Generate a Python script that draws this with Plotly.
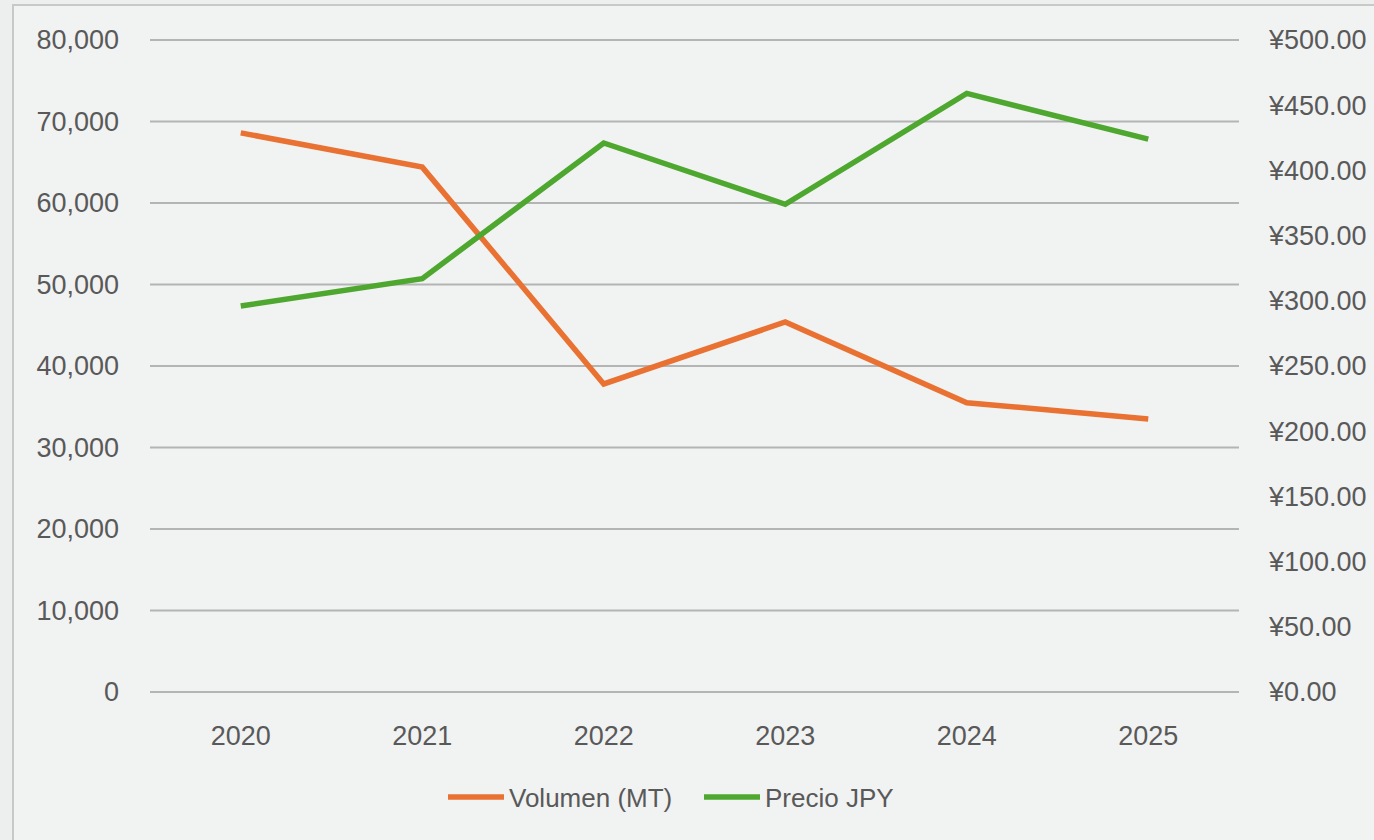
import plotly.graph_objects as go

years = ["2020", "2021", "2022", "2023", "2024", "2025"]
volumen_mt = [68600, 64400, 37800, 45400, 35500, 33500]
precio_jpy = [296, 317, 421, 374, 459, 424]
left_ticks = [0, 10000, 20000, 30000, 40000, 50000, 60000, 70000, 80000]
right_ticks = [0, 50, 100, 150, 200, 250, 300, 350, 400, 450, 500]
right_labels = ["¥0.00", "¥50.00", "¥100.00", "¥150.00", "¥200.00", "¥250.00",
                "¥300.00", "¥350.00", "¥400.00", "¥450.00", "¥500.00"]

fig = go.Figure()
fig.add_trace(go.Scatter(x=years, y=volumen_mt, name="Volumen (MT)", mode="lines",
                         line=dict(color="#E97132", width=5.5)))
fig.add_trace(go.Scatter(x=years, y=precio_jpy, name="Precio JPY", mode="lines", yaxis="y2",
                         line=dict(color="#4EA72E", width=5.5)))

W, H = 1374, 840
L, R, T, B = 150, 1239, 39, 693
def px(x):
    return (x - L) / (R - L)
def py(y):
    return (B - y) / (B - T)

pad = 120
shapes = [dict(type="rect", xref="paper", yref="paper",
               x0=px(13), x1=px(1385), y0=py(5), y1=py(850),
               line=dict(color="#C8C8C8", width=2), fillcolor="#F1F2F2", layer="below")]
for v in left_ticks:
    shapes.append(dict(type="line", xref="paper", yref="y", x0=0, x1=1, y0=v, y1=v,
                       line=dict(color="#B4B4B4", width=2), layer="below"))

fig.update_layout(
    width=W, height=H,
    margin=dict(l=L, r=W - R, t=T, b=H - B, autoexpand=False),
    paper_bgcolor="#EDEEEE",
    plot_bgcolor="rgba(0,0,0,0)",
    font=dict(family="Liberation Sans, Arial, sans-serif", size=27, color="#595959"),
    xaxis=dict(type="category", range=[-0.5, 5.5], showgrid=False, zeroline=False,
               showline=False, ticks="", tickfont=dict(size=27, color="#595959"),
               ticklabelstandoff=24, automargin=False),
    yaxis=dict(range=[-pad, 80000 + pad], tickvals=left_ticks, tickformat=",",
               showgrid=False, zeroline=False, automargin=False,
               showline=False, ticks="", ticklabelstandoff=30,
               tickfont=dict(size=27, color="#595959")),
    yaxis2=dict(range=[-pad / 160, 500 + pad / 160], tickvals=right_ticks, ticktext=right_labels,
                overlaying="y", side="right", showgrid=False, zeroline=False, automargin=False,
                showline=False, ticks="", ticklabelstandoff=29,
                tickfont=dict(size=27, color="#595959")),
    legend=dict(orientation="h", x=px(443), xanchor="left", y=py(797), yanchor="middle",
                font=dict(family="Liberation Sans, Arial, sans-serif", size=26, color="#595959"),
                bgcolor="rgba(0,0,0,0)", itemwidth=56, entrywidth=185),
    shapes=shapes,
)

fig.write_html("out.html", config={"displayModeBar": False},
               post_script="document.body.style.margin='0';document.body.style.overflow='hidden';")
